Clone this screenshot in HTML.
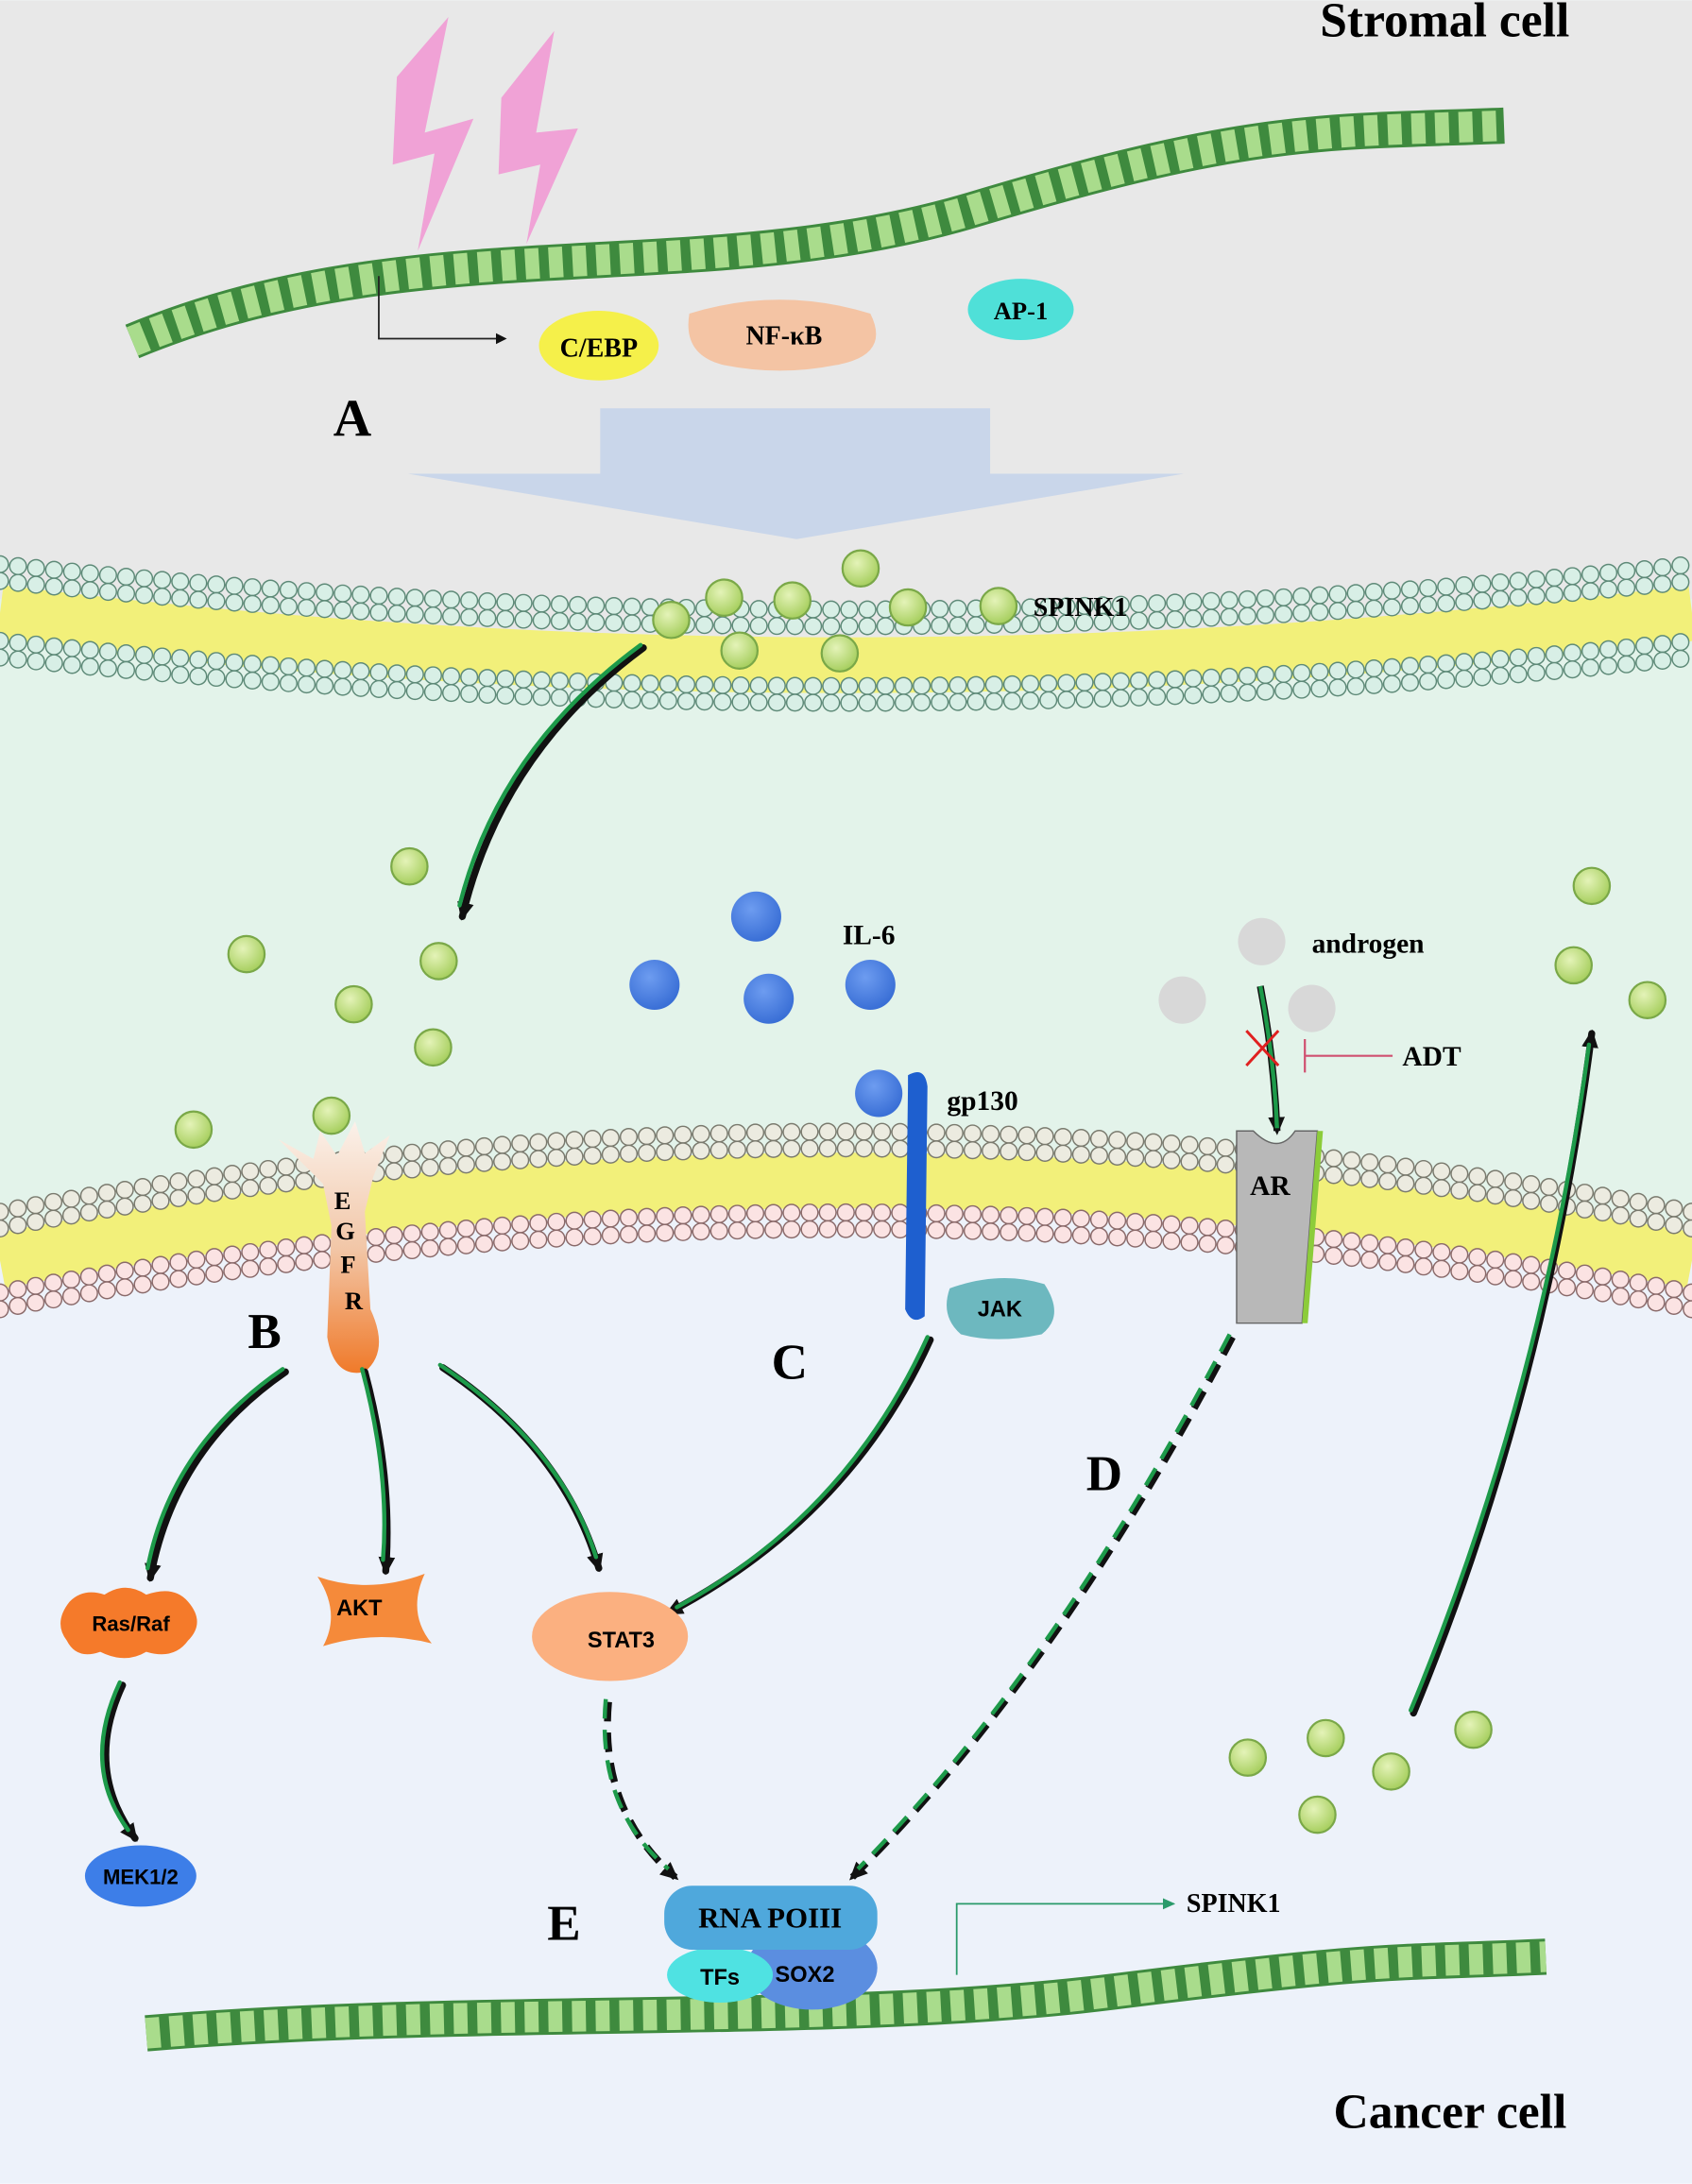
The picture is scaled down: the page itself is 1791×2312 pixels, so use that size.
<!DOCTYPE html>
<html><head><meta charset="utf-8"><style>
html,body{margin:0;padding:0;background:#fff}
svg{display:block}
text{font-family:"Liberation Serif",serif;font-weight:bold}
.s{font-family:"Liberation Sans",sans-serif;font-weight:bold}
</style></head><body>
<svg width="1791" height="2312" viewBox="0 0 1215 1568" xmlns="http://www.w3.org/2000/svg">
<defs>
<marker id="ah" markerWidth="8" markerHeight="8" refX="6" refY="4" orient="auto" markerUnits="userSpaceOnUse"><path d="M0,0 L8,4 L0,8 z" fill="#111"/></marker>
<marker id="ag" markerWidth="14" markerHeight="14" refX="10" refY="7" orient="auto" markerUnits="userSpaceOnUse"><path d="M0,1 L13,7 L0,13 z" fill="#111"/></marker>
<marker id="at" markerWidth="10" markerHeight="10" refX="8" refY="5" orient="auto" markerUnits="userSpaceOnUse"><path d="M0,1 L9,5 L0,9 z" fill="#2a9a6a"/></marker>
<radialGradient id="sp" cx="40%" cy="35%" r="65%"><stop offset="0" stop-color="#e4f3b8"/><stop offset="1" stop-color="#a7cf5f"/></radialGradient>
<radialGradient id="il" cx="40%" cy="35%" r="65%"><stop offset="0" stop-color="#6d9cf0"/><stop offset="1" stop-color="#3a6fd6"/></radialGradient>
<linearGradient id="eg" x1="0" y1="0" x2="0" y2="1"><stop offset="0" stop-color="#fbf1ea"/><stop offset="0.5" stop-color="#f2c7a8"/><stop offset="1" stop-color="#f07a2a"/></linearGradient>
</defs>
<rect width="1215" height="1568" fill="#edf2fa"/>
<path d="M0,0 H1215 V900 Q607,800 0,900 Z" fill="#e3f3ea"/>
<path d="M0,0 H1215 V430 Q607,500 0,430 Z" fill="#e8e8e8"/>
<path d="M0,430 Q607,505 1215,430" stroke="#f2f07a" stroke-width="40" fill="none" transform="translate(0,10)"/>
<g fill="none" stroke-linecap="round" stroke-dasharray="0 13">
<path d="M0,405 Q607,470 1215,405" stroke="#5e8a78" stroke-width="13"/>
<path d="M0,405 Q607,470 1215,405" stroke="#d8efe6" stroke-width="11"/>
<path d="M0,417 Q607,482 1215,417" stroke="#5e8a78" stroke-width="13"/>
<path d="M0,417 Q607,482 1215,417" stroke="#d8efe6" stroke-width="11"/>
<path d="M0,460 Q607,525 1215,460" stroke="#5e8a78" stroke-width="13"/>
<path d="M0,460 Q607,525 1215,460" stroke="#d8efe6" stroke-width="11"/>
<path d="M0,472 Q607,537 1215,472" stroke="#5e8a78" stroke-width="13"/>
<path d="M0,472 Q607,537 1215,472" stroke="#d8efe6" stroke-width="11"/>
</g>
<path d="M0,905 Q607,790 1215,905" stroke="#f2f07a" stroke-width="40" fill="none"/>
<g fill="none" stroke-linecap="round" stroke-dasharray="0 13">
<path d="M0,870 Q607,755 1215,870" stroke="#7a7a6e" stroke-width="13"/>
<path d="M0,870 Q607,755 1215,870" stroke="#ecebe0" stroke-width="11"/>
<path d="M0,882 Q607,767 1215,882" stroke="#7a7a6e" stroke-width="13"/>
<path d="M0,882 Q607,767 1215,882" stroke="#ecebe0" stroke-width="11"/>
<path d="M0,928 Q607,813 1215,928" stroke="#8a6a6a" stroke-width="13"/>
<path d="M0,928 Q607,813 1215,928" stroke="#fbe3e3" stroke-width="11"/>
<path d="M0,940 Q607,825 1215,940" stroke="#8a6a6a" stroke-width="13"/>
<path d="M0,940 Q607,825 1215,940" stroke="#fbe3e3" stroke-width="11"/>
</g>
<path d="M285,55 L322,12 L305,95 L340,85 L300,180 L312,110 L282,118 Z" fill="#f0a2d6"/>
<path d="M360,70 L398,22 L385,95 L415,92 L378,175 L388,118 L358,125 Z" fill="#f0a2d6"/>
<g fill="none">
<path d="M95,245 C300,160 500,210 700,150 S950,95 1080,90" stroke="#3e8a3e" stroke-width="26"/>
<path d="M95,245 C300,160 500,210 700,150 S950,95 1080,90" stroke="#a9dc8c" stroke-width="22" stroke-dasharray="10 7"/>
</g>
<g fill="none">
<path d="M105,1460 C350,1440 600,1455 800,1430 S1000,1410 1110,1405" stroke="#3e8a3e" stroke-width="26"/>
<path d="M105,1460 C350,1440 600,1455 800,1430 S1000,1410 1110,1405" stroke="#a9dc8c" stroke-width="22" stroke-dasharray="10 7"/>
</g>
<path d="M272,198 V243 H362" stroke="#222" stroke-width="1.2" fill="none" marker-end="url(#ah)"/>
<ellipse cx="430" cy="248" rx="43" ry="25" fill="#f5f04a"/>
<text x="430" y="256" font-size="19" text-anchor="middle">C/EBP</text>
<path d="M495,225 Q560,205 625,225 Q640,255 600,262 Q560,270 520,262 Q490,255 495,225 Z" fill="#f4c4a4"/>
<text x="563" y="247" font-size="19" text-anchor="middle">NF-κB</text>
<ellipse cx="733" cy="222" rx="38" ry="22" fill="#4fe0d8"/>
<text x="733" y="229" font-size="18" text-anchor="middle">AP-1</text>
<text x="253" y="313" font-size="38" text-anchor="middle">A</text>
<text x="1127" y="26" font-size="35" text-anchor="end">Stromal cell</text>
<path d="M431,293 H711 V340 H850 L572,387 L293,340 H431 Z" fill="#c9d6ea"/>
<g fill="url(#sp)" stroke="#7aa848" stroke-width="1.5">
<circle cx="482" cy="445" r="13"/><circle cx="520" cy="429" r="13"/><circle cx="569" cy="431" r="13"/><circle cx="618" cy="408" r="13"/><circle cx="652" cy="436" r="13"/><circle cx="531" cy="467" r="13"/><circle cx="603" cy="469" r="13"/><circle cx="717" cy="435" r="13"/>
<circle cx="294" cy="622" r="13"/><circle cx="177" cy="685" r="13"/><circle cx="315" cy="690" r="13"/><circle cx="254" cy="721" r="13"/><circle cx="311" cy="752" r="13"/><circle cx="139" cy="811" r="13"/><circle cx="238" cy="801" r="13"/>
<circle cx="1143" cy="636" r="13"/><circle cx="1130" cy="693" r="13"/><circle cx="1183" cy="718" r="13"/>
<circle cx="896" cy="1262" r="13"/><circle cx="952" cy="1248" r="13"/><circle cx="999" cy="1272" r="13"/><circle cx="1058" cy="1242" r="13"/><circle cx="946" cy="1303" r="13"/>
</g>
<text x="742" y="442" font-size="19">SPINK1</text>
<g fill="url(#il)"><circle cx="543" cy="658" r="18"/><circle cx="470" cy="707" r="18"/><circle cx="552" cy="717" r="18"/><circle cx="625" cy="707" r="18"/><circle cx="631" cy="785" r="17"/></g>
<text x="605" y="678" font-size="20">IL-6</text>
<path d="M652,772 Q664,765 666,780 L664,945 Q655,952 650,940 L652,780 Z" fill="#1e5fcf"/>
<text x="680" y="797" font-size="20">gp130</text>
<path d="M682,925 Q718,912 750,922 Q765,945 748,958 Q715,965 690,958 Q675,945 682,925 Z" fill="#6db8bf"/>
<text x="718" y="945" font-size="16" class="s" text-anchor="middle">JAK</text>
<g fill="#d8d8d8"><circle cx="906" cy="676" r="17"/><circle cx="849" cy="718" r="17"/><circle cx="942" cy="724" r="17"/></g>
<text x="942" y="684" font-size="20">androgen</text>
<path d="M905,708 Q915,760 917,812" stroke="#111" stroke-width="5" fill="none" marker-end="url(#ag)"/>
<path d="M905,708 Q915,760 917,810" stroke="#1d9a4a" stroke-width="3" fill="none"/>
<path d="M895,740 L918,765 M918,740 L895,765" stroke="#e02020" stroke-width="2"/>
<path d="M1000,758 H937 M937,746 V770" stroke="#d05070" stroke-width="1.5"/>
<text x="1007" y="765" font-size="20">ADT</text>
<path d="M888,812 L900,812 Q918,830 930,812 L946,812 L935,950 L888,950 Z" fill="#b8b8b8" stroke="#666" stroke-width="1"/>
<path d="M946,812 L950,812 L939,950 L935,950 Z" fill="#8ccc3a"/>
<text x="912" y="858" font-size="20" text-anchor="middle">AR</text>
<path d="M200,818 L225,832 L230,812 L242,830 L255,805 L262,828 L280,815 L268,845 L262,870 L266,940 Q280,970 262,985 Q240,990 235,960 L238,880 L232,850 Z" fill="url(#eg)"/>
<g font-size="18" class="s" text-anchor="middle"><text x="246" y="868">E</text><text x="248" y="890">G</text><text x="250" y="914">F</text><text x="254" y="940">R</text></g>
<text x="190" y="968" font-size="36" text-anchor="middle">B</text>
<text x="567" y="990" font-size="36" text-anchor="middle">C</text>
<text x="793" y="1070" font-size="36" text-anchor="middle">D</text>
<text x="405" y="1393" font-size="36" text-anchor="middle">E</text>
<g fill="none" stroke-linecap="round">
<g stroke="#111" stroke-width="5">
<path d="M462,465 Q360,540 332,658" marker-end="url(#ag)"/>
<path d="M205,985 Q125,1040 108,1133" marker-end="url(#ag)"/>
<path d="M262,985 Q282,1060 277,1128" marker-end="url(#ag)"/>
<path d="M318,982 Q405,1040 430,1126" marker-end="url(#ag)"/>
<path d="M668,962 Q610,1090 480,1158" marker-end="url(#ag)"/>
<path d="M88,1210 Q60,1270 97,1320" marker-end="url(#ag)"/>
<path d="M1015,1230 Q1110,1000 1143,742" marker-end="url(#ag)"/>
</g>
<g stroke="#1d9a4a" stroke-width="3">
<path d="M460,463 Q358,538 330,650"/>
<path d="M203,983 Q123,1038 106,1126"/>
<path d="M260,983 Q280,1058 275,1120"/>
<path d="M316,980 Q403,1038 428,1118"/>
<path d="M666,960 Q608,1088 486,1154"/>
<path d="M86,1208 Q58,1268 92,1314"/>
<path d="M1013,1228 Q1108,998 1141,750"/>
</g>
<g stroke="#111" stroke-width="5" stroke-dasharray="14 8" stroke-linecap="butt">
<path d="M885,960 Q760,1200 612,1348" marker-end="url(#ag)"/>
<path d="M437,1222 Q430,1300 485,1348" marker-end="url(#ag)"/>
</g>
<g stroke="#1d9a4a" stroke-width="3" stroke-dasharray="14 8" stroke-linecap="butt">
<path d="M883,958 Q758,1198 616,1342"/>
<path d="M435,1220 Q428,1298 480,1342"/>
</g>
</g>
<path d="M50,1150 Q60,1140 75,1145 Q90,1135 105,1145 Q125,1138 135,1150 Q148,1165 135,1178 Q125,1192 105,1186 Q90,1195 72,1186 Q55,1192 48,1178 Q38,1165 50,1150 Z" fill="#f57a2a"/>
<text x="94" y="1171" font-size="15" class="s" text-anchor="middle">Ras/Raf</text>
<path d="M228,1132 Q265,1145 305,1130 Q292,1158 310,1180 Q270,1170 232,1182 Q245,1158 228,1132 Z" fill="#f58a3a"/>
<text x="258" y="1160" font-size="16" class="s" text-anchor="middle">AKT</text>
<ellipse cx="438" cy="1175" rx="56" ry="32" fill="#fbb080"/>
<text x="446" y="1183" font-size="16" class="s" text-anchor="middle">STAT3</text>
<ellipse cx="101" cy="1347" rx="40" ry="22" fill="#3d7ee8"/>
<text x="101" y="1353" font-size="15" class="s" text-anchor="middle">MEK1/2</text>
<ellipse cx="583" cy="1413" rx="47" ry="30" fill="#5b8ee0"/>
<ellipse cx="517" cy="1418" rx="38" ry="20" fill="#4fe2e2"/>
<rect x="477" y="1354" width="153" height="46" rx="20" fill="#4fa8dc"/>
<text x="553" y="1384" font-size="21" text-anchor="middle">RNA POIII</text>
<text x="517" y="1425" font-size="16" class="s" text-anchor="middle">TFs</text>
<text x="578" y="1423" font-size="16" class="s" text-anchor="middle">SOX2</text>
<path d="M687,1418 V1367 H843" stroke="#2a9a6a" stroke-width="1.2" fill="none" marker-end="url(#at)"/>
<text x="852" y="1373" font-size="19">SPINK1</text>
<text x="1125" y="1528" font-size="35" text-anchor="end">Cancer cell</text>
</svg>
</body></html>
